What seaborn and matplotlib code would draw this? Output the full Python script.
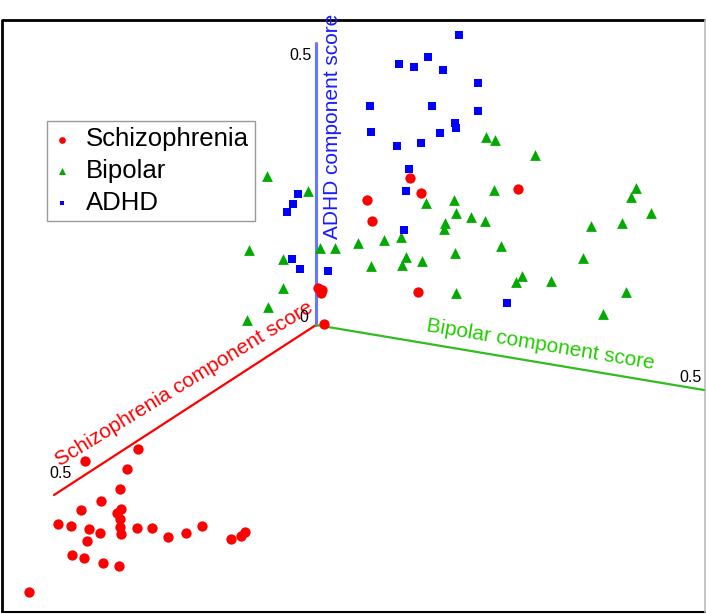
import matplotlib
matplotlib.use("Agg")
import matplotlib.pyplot as plt
import seaborn as sns
import pandas as pd

# projected 3D component scores (screen coordinates of the 3D view, y grows downward)
schizo_x = [138, 85, 127, 120, 101, 81, 121, 117, 120, 58, 71, 89, 100, 120, 121, 137, 152,
            168, 186, 202, 231, 241, 245, 87, 72, 84, 103, 119, 29,
            324, 318, 322, 321, 410, 367, 421, 372, 518, 418]
schizo_y = [449, 461, 469, 489, 501, 510, 509, 513, 519, 524, 526, 529, 533, 527, 534, 528, 528,
            537, 533, 526, 539, 536, 532, 541, 555, 558, 563, 566, 592,
            324, 288, 290, 293, 178, 200, 193, 221, 189, 292]

bipolar_x = [267, 308, 249, 283, 320, 335, 358, 283, 268, 247,
             486, 495, 535, 494, 636, 631, 426, 454, 456, 471, 485, 445, 444, 651, 591, 622,
             384, 401, 501, 371, 406, 402, 422, 455, 583, 522, 516, 551, 456, 626, 603]
bipolar_y = [176, 191, 250, 259, 248, 248, 243, 288, 307, 320,
             137, 140, 155, 190, 188, 197, 203, 200, 213, 217, 221, 223, 229, 213, 226, 223,
             240, 237, 246, 266, 257, 265, 261, 253, 258, 276, 282, 281, 293, 292, 314]

adhd_x = [459, 399, 414, 428, 443, 478, 370, 432, 478, 455, 456, 371, 440, 421, 397, 409,
          406, 404, 507, 298, 293, 287, 292, 300, 328]
adhd_y = [35, 64, 67, 57, 70, 83, 106, 106, 111, 123, 128, 132, 133, 143, 146, 169,
          191, 230, 303, 194, 204, 212, 259, 269, 271]

# axis endpoints in the same projected space
origin = (316, 325)
schizo_axis_end = (54, 495)
bipolar_axis_end = (704, 390)
adhd_axis_end = (316, 43)

df = pd.concat([
    pd.DataFrame({"x": schizo_x, "y": schizo_y, "group": "Schizophrenia"}),
    pd.DataFrame({"x": bipolar_x, "y": bipolar_y, "group": "Bipolar"}),
    pd.DataFrame({"x": adhd_x, "y": adhd_y, "group": "ADHD"}),
])

sns.set_style("white")
plt.rcParams["font.family"] = ["Liberation Sans", "DejaVu Sans"]
plt.rcParams["text.color"] = "black"

fig = plt.figure(figsize=(7.06, 6.14), dpi=100)
ax = fig.add_axes([0, 0, 1, 1])
ax.set_xlim(0, 706)
ax.set_ylim(614, 0)
ax.axis("off")

# frame around the plot area
ax.plot([2, 2, 705], [612, 20, 20], color="black", lw=2, solid_capstyle="butt")
ax.plot([2, 705], [612, 612], color="black", lw=1.5)
ax.plot([705, 705], [20, 612], color="#bbbbbb", lw=1.2)

# the three axes of the 3D view
ax.plot([origin[0], adhd_axis_end[0]], [origin[1], adhd_axis_end[1]], color="#6677ff", lw=2.2)
ax.plot([origin[0], schizo_axis_end[0]], [origin[1], schizo_axis_end[1]], color="#ff0000", lw=1.6)
ax.plot([origin[0], bipolar_axis_end[0]], [origin[1], bipolar_axis_end[1]], color="#33bb22", lw=1.6)

ax.text(332, 126, "ADHD component score", color="#1a1aff", fontsize=15,
        rotation=90, ha="center", va="center")
ax.text(184, 384, "Schizophrenia component score", color="#ff0000", fontsize=15,
        rotation=31.5, ha="center", va="center", rotation_mode="anchor")
ax.text(540, 345, "Bipolar component score", color="#22cc00", fontsize=15,
        rotation=-9.5, ha="center", va="center", rotation_mode="anchor")

ax.text(301, 56, "0.5", fontsize=11.5, ha="center", va="center")
ax.text(304, 318, "0", fontsize=11.5, ha="center", va="center")
ax.text(60, 474, "0.5", fontsize=11.5, ha="center", va="center")
ax.text(690, 377, "0.5", fontsize=11.5, ha="center", va="center")

palette = {"Schizophrenia": "#ff0000", "Bipolar": "#00aa00", "ADHD": "#0000ff"}
markers = {"Schizophrenia": "o", "Bipolar": "^", "ADHD": "s"}
sizes = {"Schizophrenia": 55, "Bipolar": 60, "ADHD": 28}

for g in ["Schizophrenia", "Bipolar", "ADHD"]:
    sub = df[df["group"] == g]
    sns.scatterplot(data=sub, x="x", y="y", ax=ax, color=palette[g], marker=markers[g],
                    s=sizes[g], linewidth=0, label=g, zorder=3)

leg = ax.legend(loc="upper left", bbox_to_anchor=(47 / 706, 1 - 121 / 614),
                bbox_transform=ax.transAxes, borderaxespad=0, fontsize=18.5,
                markerscale=0.65, handlelength=0.7, handletextpad=0.55,
                labelspacing=0.3, borderpad=0.25, fancybox=False,
                edgecolor="#999999", framealpha=1, labelcolor="black")
leg.get_frame().set_linewidth(1.0)

fig.savefig("out.png", dpi=100)
